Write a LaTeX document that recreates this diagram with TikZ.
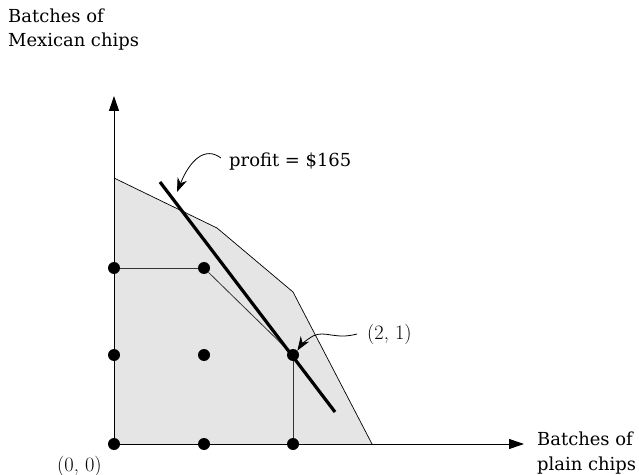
\documentclass[tikz,border=0pt]{standalone}
\usepackage{fontspec}
\newfontfamily\labfont{DejaVu Serif}
\usetikzlibrary{arrows.meta}
\begin{document}
\begin{tikzpicture}[x=1bp,y=-1bp,
  dot/.style={circle,fill=black,inner sep=0pt,minimum size=12bp},
  lbl/.style={font=\labfont\fontsize{18}{25}\selectfont,align=left,inner sep=0pt,anchor=base west},
  clbl/.style={font=\fontsize{20.5}{24}\selectfont,inner sep=0pt,anchor=base west},
  axisline/.style={line width=1bp,-{Triangle[length=15bp,width=10bp]}},
  edgeline/.style={line width=0.8bp,draw=black!80},
  callout/.style={line width=0.8bp,-{Stealth[length=14bp,width=10bp]}},
]
\useasboundingbox (0,0) rectangle (639,475);
% feasible region
\fill[black!10] (114,444) -- (114,178) -- (217,228) -- (293,292) -- (372,444) -- cycle;
\draw[line width=0.7bp] (114,178) -- (217,228) -- (293,292) -- (372,444);
% dots
\node[dot] (d00) at (114,444) {};
\node[dot] (d10) at (204,444) {};
\node[dot] (d20) at (293,444) {};
\node[dot] (d01) at (114,355) {};
\node[dot] (d11) at (204,355) {};
\node[dot] (d21) at (293,355) {};
\node[dot] (d02) at (114,268) {};
\node[dot] (d12) at (204,268) {};
% axes
\coordinate (ytip) at (114,96);
\coordinate (xtip) at (524,444);
\draw[axisline] (d00.center) -- (ytip);
\draw[axisline] (d00.center) -- (xtip);
% inner polygon
\draw[edgeline] (d02) -- (d12);
\draw[edgeline] (d12) -- (d21);
\draw[edgeline] (d21) -- (d20);
% profit line
\coordinate (p1) at (160,182);
\coordinate (p2) at (335,412);
\draw[line width=3.2bp] (p1) -- (p2);
% labels (base = last line's baseline)
\node[lbl] (ylab) at (8,47) {Batches of\\Mexican chips};
\node[lbl] (xlab) at (537,470) {Batches of\\plain chips};
\node[clbl] (olab) at (57,471) {(0, 0)};
\node[lbl] (plab) at (229,167) {profit = \$165};
\node[clbl] (qlab) at (367,339) {(2, 1)};
% callouts
\coordinate (ptip) at (177,192);
\draw[callout] (221,158) .. controls (205,146) and (190,160) .. (ptip);
\draw[callout] (357,334) .. controls (335,340) and (325,330) .. (313,336) .. controls (306,340) and (301,345) .. (d21.north east);
\end{tikzpicture}
\end{document}
